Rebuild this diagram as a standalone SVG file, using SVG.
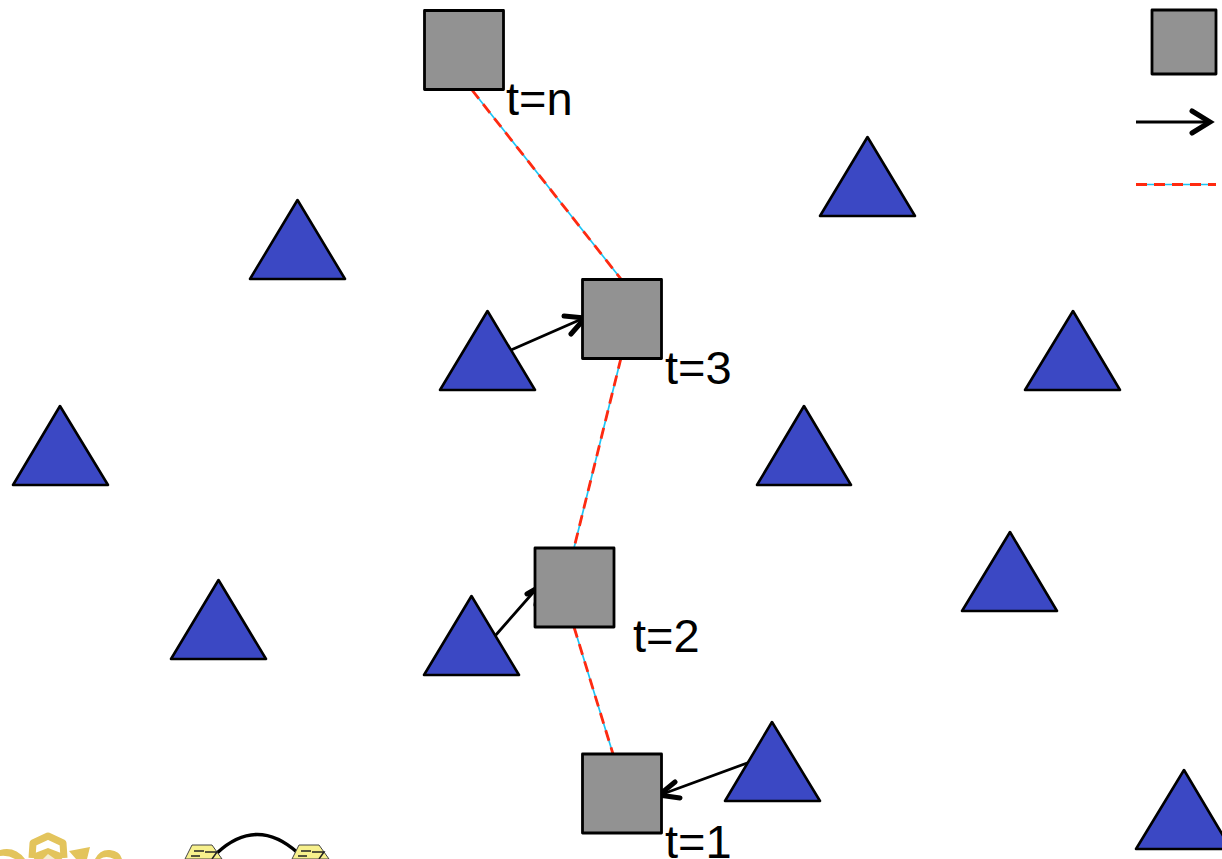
<svg xmlns="http://www.w3.org/2000/svg" width="1222" height="859" viewBox="0 0 1222 859">
<style>
.tri{fill:#3b48c4;stroke:#000;stroke-width:2.6;stroke-linejoin:round}
.sq{fill:#929292;stroke:#000;stroke-width:2.8;stroke-linejoin:round}
.lbl{font-family:"Liberation Sans",Arial,sans-serif;font-size:47px;fill:#000}
.base{stroke:#1cc4f4;stroke-width:1.700;fill:none}
.dash{stroke:#ff2a10;stroke-width:2.800;stroke-dasharray:11 7;fill:none}
.arr{stroke:#000;stroke-width:2.800;fill:none}
.head{stroke:#000;stroke-width:5;fill:none;stroke-linecap:round;stroke-linejoin:miter}
.hex{fill:#f7f08c;stroke:#444;stroke-width:1}
.slot{fill:none;stroke:#222;stroke-width:1.500}
.gold{fill:none;stroke:#e3c45c;stroke-width:7;stroke-linejoin:round}
.goldf{fill:#e3c45c}
</style>
<rect width="1222" height="859" fill="#fff"/>
<g id="connectors">
<path class="base" d="M472 90L621 279M621 358L574 548M574 627L613 754M1136 184.500H1216"/>
<path class="dash" d="M472 90L621 279M621 358L574 548M574 627L613 754M1136 184.500H1216"/>
<path class="arr" d="M511 350L584 318M495 636L538 587M750 762L660 795M1136 122H1208"/>
<path class="head" d="M564 316L585 318L571 334M527 594L539 587L536 605M675 782L659 795L680 798M1192 111L1210 122L1192 133"/>
</g>
<g id="n1"><rect class="sq" x="424.500" y="10.500" width="79" height="79"/><text class="lbl" x="506" y="115">t=n</text></g>
<g id="n2"><rect class="sq" x="582.500" y="279.500" width="79" height="79"/><text class="lbl" x="665" y="384">t=3</text></g>
<g id="n3"><rect class="sq" x="535" y="548" width="79" height="79"/><text class="lbl" x="633" y="652">t=2</text></g>
<g id="n4"><rect class="sq" x="582.500" y="754" width="79" height="79"/><text class="lbl" x="665" y="858">t=1</text></g>
<g id="legend-square"><rect class="sq" x="1152" y="10" width="64" height="64"/></g>
<g id="t1"><path class="tri" d="M297.500 200L345 279H250Z"/></g>
<g id="t2"><path class="tri" d="M867.500 137L915 216H820Z"/></g>
<g id="t3"><path class="tri" d="M487.500 311L535 390H440Z"/></g>
<g id="t4"><path class="tri" d="M1073 311L1120 390H1025Z"/></g>
<g id="t5"><path class="tri" d="M60 406L108 485H13Z"/></g>
<g id="t6"><path class="tri" d="M804 406L851 485H757Z"/></g>
<g id="t7"><path class="tri" d="M1010 532L1057 611H962Z"/></g>
<g id="t8"><path class="tri" d="M218.500 580L266 659H171Z"/></g>
<g id="t9"><path class="tri" d="M471.500 596L519 675H424Z"/></g>
<g id="t10"><path class="tri" d="M772 722L820 801H725Z"/></g>
<g id="t11"><path class="tri" d="M1184 770L1231 849H1136Z"/></g>
<g id="logo">
<path class="gold" d="M32 858L33 843L48 836L63 843L64 858"/>
<path class="goldf" d="M35 853L48 848L61 853L62 859H34Z"/>
<path d="M43 859L48 854L55 859Z" fill="#f4ecd0"/>
<path class="goldf" d="M0 850Q15 846 25 859H15Q8 855 0 856Z"/>
<path class="goldf" d="M69 851L90 847L87 859H76ZM95 859Q100 849 110 850Q120 851 122 859H114Q106 855 100 859Z"/>
</g>
<g id="network-icon">
<path d="M217 853Q257 816 298 853" fill="none" stroke="#000" stroke-width="3.500"/>
<path class="hex" d="M192 845H212L222 859H185Z"/>
<path class="hex" d="M299 845H319L329 859H292Z"/>
<path class="slot" d="M194 851H204M191 856H200M205 852H217L212 859M301 851H311M298 856H307M312 852H324L319 859"/>
</g>
</svg>
